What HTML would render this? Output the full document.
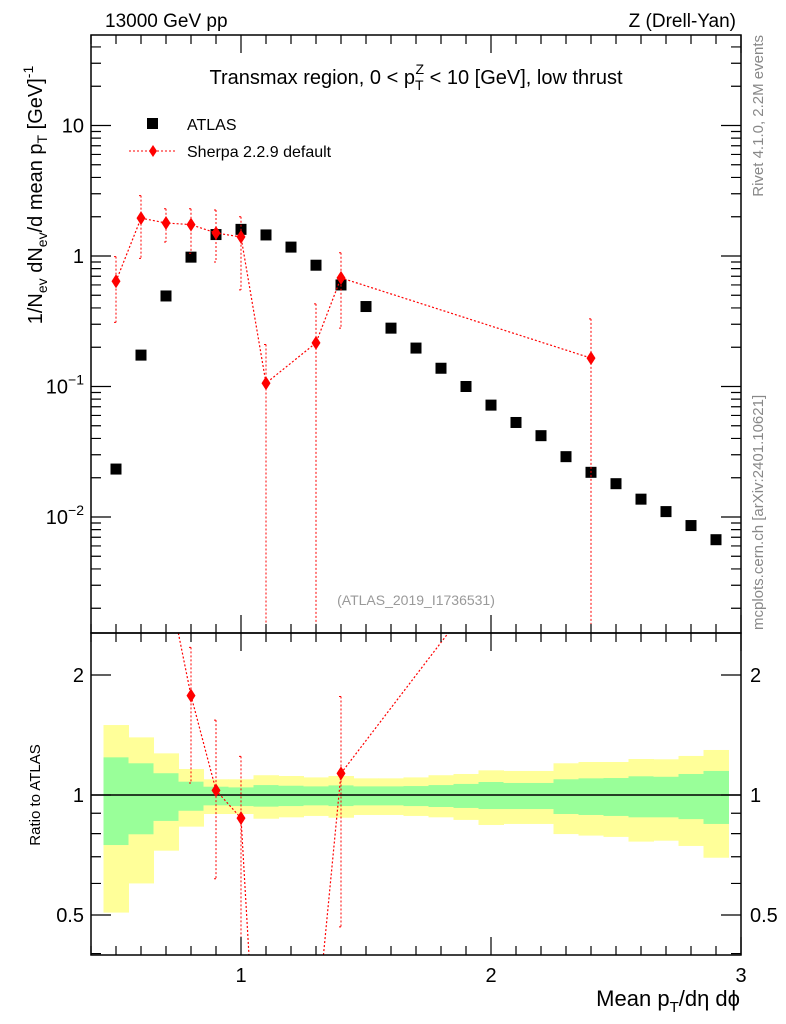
<!DOCTYPE html>
<html><head><meta charset="utf-8"><style>
html,body{margin:0;padding:0;background:#fff;width:786px;height:1024px;overflow:hidden}
svg{display:block;font-family:"Liberation Sans",sans-serif}
</style></head><body>
<svg id="c" width="786" height="1024" xmlns="http://www.w3.org/2000/svg">
<defs><clipPath id="cm"><rect x="91" y="35" width="650" height="598"/></clipPath><clipPath id="cr"><rect x="91" y="633" width="650" height="322"/></clipPath></defs>
<g id="bands" clip-path="url(#cr)"></g>
<g id="marks"></g>
<rect x="91" y="35" width="650" height="598" fill="none" stroke="#000" stroke-width="1.5"/>
<rect x="91" y="633" width="650" height="322" fill="none" stroke="#000" stroke-width="1.5"/>
<g id="ticks"></g>
<text x="105" y="27" font-size="19">13000 GeV pp</text>
<text x="736" y="27" font-size="19" text-anchor="end">Z (Drell-Yan)</text>
<text x="416" y="84" font-size="20" text-anchor="middle">Transmax region, 0 &lt; p<tspan font-size="14" dy="6">T</tspan><tspan font-size="14" dx="-8" dy="-16">Z</tspan><tspan dy="10"> &lt; 10 [GeV], low thrust</tspan></text>
<rect x="147" y="118" width="11" height="11" fill="#000"/>
<text x="187" y="130" font-size="16">ATLAS</text>
<line x1="129" y1="151" x2="176" y2="151" stroke="red" stroke-dasharray="2,2"/>
<path d="M153,145 L157,151 L153,157 L149,151Z" fill="red"/>
<text x="187" y="157" font-size="16">Sherpa 2.2.9 default</text>
<text x="416" y="605" font-size="14" fill="#999" text-anchor="middle">(ATLAS_2019_I1736531)</text>
<text transform="translate(763,35) rotate(-90)" font-size="15" fill="#888" text-anchor="end">Rivet 4.1.0,  2.2M events</text>
<text transform="translate(763,630) rotate(-90)" font-size="15" fill="#888">mcplots.cern.ch [arXiv:2401.10621]</text>
<text transform="translate(42,195) rotate(-90)" font-size="20" text-anchor="middle">1/N<tspan font-size="14" dy="5">ev</tspan><tspan dy="-5"> dN</tspan><tspan font-size="14" dy="5">ev</tspan><tspan dy="-5">/d mean p</tspan><tspan font-size="14" dy="5">T</tspan><tspan dy="-5">  [GeV]</tspan><tspan font-size="14" dy="-9">-1</tspan></text>
<text transform="translate(40,795) rotate(-90)" font-size="15" text-anchor="middle">Ratio to ATLAS</text>
<text x="740" y="1006" font-size="22" text-anchor="end">Mean p<tspan font-size="15" dy="6">T</tspan><tspan dy="-6">/dη dϕ</tspan></text>
</svg>
<script>
const atlasX=[0.5,0.6,0.7,0.8,0.9,1.0,1.1,1.2,1.3,1.4,1.5,1.6,1.7,1.8,1.9,2.0,2.1,2.2,2.3,2.4,2.5,2.6,2.7,2.8,2.9];
const atlasY=[0.0233,0.174,0.494,0.98,1.46,1.6,1.45,1.17,0.85,0.60,0.41,0.28,0.197,0.138,0.10,0.072,0.053,0.042,0.029,0.022,0.018,0.0137,0.011,0.0086,0.0067];
const sherpaX=[0.5,0.6,0.7,0.8,0.9,1.0,1.1,1.3,1.4,2.4];
const sherpaY=[0.64,1.95,1.79,1.74,1.5,1.4,0.106,0.216,0.68,0.165];
const sherpaLo=[0.31,0.96,1.28,1.05,0.9,0.55,0.0005,0.0005,0.28,0.0005];
const sherpaHi=[0.99,2.9,2.3,2.3,2.25,2.0,0.21,0.43,1.06,0.33];
const bandYU=[1.498,1.395,1.272,1.162,1.095,1.095,1.121,1.116,1.107,1.116,1.101,1.101,1.107,1.121,1.129,1.153,1.149,1.149,1.201,1.210,1.210,1.231,1.229,1.253,1.297];
const bandGU=[1.243,1.201,1.134,1.080,1.049,1.045,1.059,1.055,1.051,1.057,1.051,1.051,1.053,1.059,1.066,1.078,1.072,1.072,1.095,1.101,1.103,1.114,1.111,1.129,1.149];
const bandGL=[0.749,0.797,0.861,0.913,0.942,0.938,0.935,0.938,0.942,0.938,0.942,0.942,0.938,0.933,0.928,0.922,0.922,0.922,0.896,0.891,0.886,0.879,0.879,0.870,0.846];
const bandYL=[0.507,0.600,0.725,0.833,0.896,0.896,0.872,0.879,0.886,0.877,0.891,0.891,0.886,0.879,0.866,0.841,0.846,0.846,0.798,0.791,0.785,0.764,0.768,0.745,0.696];
const NS="http://www.w3.org/2000/svg";
const X=v=>91+(v-0.4)*250;
const Y=v=>256-Math.log10(v)*130.5;
const R=v=>795-Math.log10(v)*398.6;
function mk(p,tag,at){const e=document.createElementNS(NS,tag);for(const k in at)e.setAttribute(k,at[k]);p.appendChild(e);return e;}
const bands=document.getElementById('bands'),marks=document.getElementById('marks'),ticks=document.getElementById('ticks');
const mg=mk(marks,'g',{'clip-path':'url(#cm)'});
const rg=mk(marks,'g',{'clip-path':'url(#cr)'});
for(let i=0;i<atlasX.length;i++){
 const x0=X(atlasX[i]-0.05),w=25;
 let e=mk(bands,'rect',{x:x0,y:R(bandYU[i]),width:w+0.5,height:R(bandYL[i])-R(bandYU[i]),fill:'#ffff99'});
 
 
 e=mk(bands,'rect',{x:x0,y:R(bandGU[i]),width:w+0.5,height:R(bandGL[i])-R(bandGU[i]),fill:'#99ff99'});
 
 
}
let ln=mk(bands,'line',{x1:91,x2:741,y1:R(1),y2:R(1),stroke:'#000','stroke-width':1.5});


atlasX.forEach((x,i)=>{const e=mk(mg,'rect',{x:X(x)-5.5,y:Y(atlasY[i])-5.5,width:11,height:11,fill:'#000'});
 
 });
let pts=sherpaX.map((x,i)=>X(x)+','+Y(sherpaY[i])).join(' ');
let pl=mk(mg,'polyline',{points:pts,fill:'none',stroke:'red','stroke-dasharray':'2,2','stroke-width':1.2});


sherpaX.forEach((x,i)=>{const cx=X(x),cy=Y(sherpaY[i]);
 const eb=mk(mg,'path',{d:`M${cx},${Y(sherpaHi[i])}V${Math.min(633,Y(sherpaLo[i]))}M${cx-2},${Y(sherpaHi[i])}h4M${cx-2},${Math.min(633,Y(sherpaLo[i]))}h4`,stroke:'red','stroke-dasharray':'2,2',fill:'none'});
 
 
 const d=mk(mg,'path',{d:`M${cx},${cy-7}L${cx+4.5},${cy}L${cx},${cy+7}L${cx-4.5},${cy}Z`,fill:'red'});
 
 });
const aOf=x=>atlasY[atlasX.findIndex(a=>Math.abs(a-x)<1e-6)];
const ratio=sherpaX.map((x,i)=>sherpaY[i]/aOf(x));
// clipped ratio line segments
const T=633,B=955;
let dd='';
for(let i=0;i<sherpaX.length-1;i++){
 let x1=X(sherpaX[i]),y1=R(ratio[i]),x2=X(sherpaX[i+1]),y2=R(ratio[i+1]);
 let t0=0,t1=1;const dy=y2-y1;
 if(dy!==0){let ta=(T-y1)/dy,tb=(B-y1)/dy;let lo=Math.min(ta,tb),hi=Math.max(ta,tb);t0=Math.max(t0,lo);t1=Math.min(t1,hi);}
 else if(y1<T||y1>B)continue;
 if(t0>=t1)continue;
 dd+=`M${x1+(x2-x1)*t0},${y1+dy*t0}L${x1+(x2-x1)*t1},${y1+dy*t1}`;
}
pl=mk(rg,'path',{d:dd,fill:'none',stroke:'red','stroke-dasharray':'2,2','stroke-width':1.2});


sherpaX.forEach((x,i)=>{const cx=X(x),cy=R(ratio[i]),a=aOf(x);
 if(ratio[i]<0.397||ratio[i]>2.55)return;
 const h=Math.max(T,R(sherpaHi[i]/a)),l=Math.min(B,R(sherpaLo[i]/a));
 const eb=mk(rg,'path',{d:`M${cx},${h}V${l}M${cx-2},${h}h4M${cx-2},${l}h4`,stroke:'red','stroke-dasharray':'2,2',fill:'none'});
 
 
 const d=mk(rg,'path',{d:`M${cx},${cy-7}L${cx+4.5},${cy}L${cx},${cy+7}L${cx-4.5},${cy}Z`,fill:'red'});
 
 });
let tp='';
for(let k=4;k<=30;k++){const x=X(k/10);const L=(k%10==0)?18:9;
 tp+=`M${x},955v${-L}M${x},633v${L}M${x},633v${-L}M${x},35v${L}`;}
for(let d=-3;d<=1;d++)for(let m=1;m<=9;m++){const v=m*Math.pow(10,d);const y=Y(v);if(y<35||y>633)continue;const L=m==1?20:10;
 tp+=`M91,${y}h${L}M741,${y}h${-L}`;}
[0.4,0.5,0.6,0.7,0.8,0.9,1,2].forEach(v=>{const y=R(v);if(y>955)return;const L=(v==0.5||v==1||v==2)?20:10;tp+=`M91,${y}h${L}M741,${y}h${-L}`;});
const tk=mk(ticks,'path',{d:tp,stroke:'#000','stroke-width':1.2,fill:'none'});


function txt(x,y,s,anc,fs,name){const t=mk(ticks,'text',{x:x,y:y,'font-size':fs,'text-anchor':anc});t.innerHTML=s;
 
 }
const xTicks=['1','2','3'];
xTicks.forEach(s=>txt(X(+s),982,s,'middle',20,'x-tick-label'));
txt(84,Y(10)+7,'10','end',20,'y-tick-label');
txt(84,Y(1)+7,'1','end',20,'y-tick-label');
txt(84,Y(0.1)+7,'10<tspan font-size="14" dy="-9">−1</tspan>','end',20,'y-tick-label');
txt(84,Y(0.01)+7,'10<tspan font-size="14" dy="-9">−2</tspan>','end',20,'y-tick-label');
const rTicks=['0.5','1','2'];
rTicks.forEach(s=>{txt(84,R(+s)+7,s,'end',20,'ratio-tick-label');txt(750,R(+s)+7,s,'start',20,'ratio-tick-label-right');});
</script>
</body></html>
